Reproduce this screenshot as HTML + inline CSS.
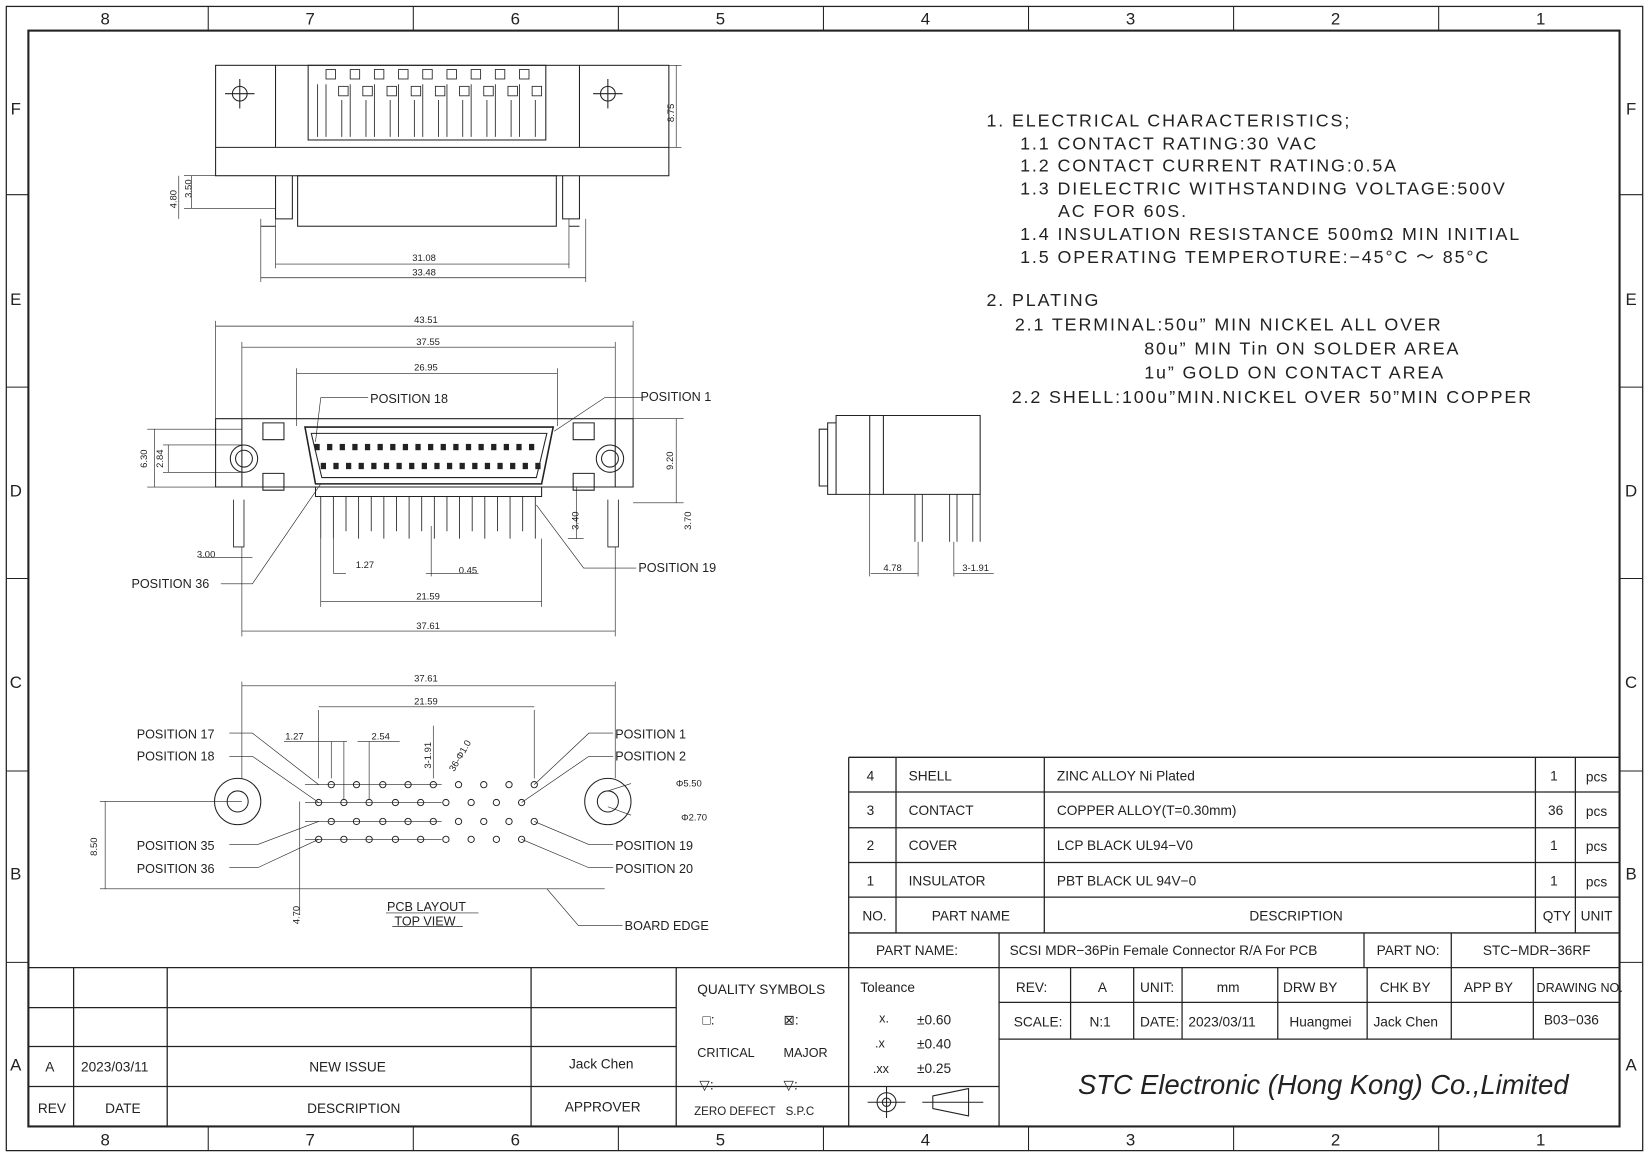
<!DOCTYPE html>
<html><head><meta charset="utf-8"><style>
html,body{margin:0;padding:0;background:#fff;}
svg{display:block;}
text{font-family:"Liberation Sans",sans-serif;fill:#222;}
.n{font-size:17px;letter-spacing:1.8px;}
.s{font-size:12px;}
.t{font-size:13px;}
.d{font-size:9px;}
</style></head><body>
<svg width="1649" height="1156" viewBox="0 0 1568 1099" xmlns="http://www.w3.org/2000/svg" fill="none" stroke="#222" stroke-width="1">
<rect x="6" y="6" width="1556" height="1088" stroke-width="1.2"/>
<rect x="27" y="29" width="1513" height="1042" stroke-width="2"/>
<g stroke-width="1">
<line x1="198" y1="6" x2="198" y2="29"/><line x1="393" y1="6" x2="393" y2="29"/><line x1="588" y1="6" x2="588" y2="29"/><line x1="783" y1="6" x2="783" y2="29"/><line x1="978" y1="6" x2="978" y2="29"/><line x1="1173" y1="6" x2="1173" y2="29"/><line x1="1368" y1="6" x2="1368" y2="29"/>
<line x1="198" y1="1071" x2="198" y2="1094"/><line x1="393" y1="1071" x2="393" y2="1094"/><line x1="588" y1="1071" x2="588" y2="1094"/><line x1="783" y1="1071" x2="783" y2="1094"/><line x1="978" y1="1071" x2="978" y2="1094"/><line x1="1173" y1="1071" x2="1173" y2="1094"/><line x1="1368" y1="1071" x2="1368" y2="1094"/>
<line x1="6" y1="185" x2="27" y2="185"/><line x1="6" y1="368" x2="27" y2="368"/><line x1="6" y1="550" x2="27" y2="550"/><line x1="6" y1="733" x2="27" y2="733"/><line x1="6" y1="915" x2="27" y2="915"/>
<line x1="1540" y1="185" x2="1562" y2="185"/><line x1="1540" y1="368" x2="1562" y2="368"/><line x1="1540" y1="550" x2="1562" y2="550"/><line x1="1540" y1="733" x2="1562" y2="733"/><line x1="1540" y1="915" x2="1562" y2="915"/>
</g>
<g stroke="none" font-size="16" text-anchor="middle">
<text x="100" y="23">8</text><text x="295" y="23">7</text><text x="490" y="23">6</text><text x="685" y="23">5</text><text x="880" y="23">4</text><text x="1075" y="23">3</text><text x="1270" y="23">2</text><text x="1465" y="23">1</text>
<text x="100" y="1089">8</text><text x="295" y="1089">7</text><text x="490" y="1089">6</text><text x="685" y="1089">5</text><text x="880" y="1089">4</text><text x="1075" y="1089">3</text><text x="1270" y="1089">2</text><text x="1465" y="1089">1</text>
<text x="15" y="109">F</text><text x="15" y="290">E</text><text x="15" y="472">D</text><text x="15" y="654">C</text><text x="15" y="836">B</text><text x="15" y="1018">A</text>
<text x="1551" y="109">F</text><text x="1551" y="290">E</text><text x="1551" y="472">D</text><text x="1551" y="654">C</text><text x="1551" y="836">B</text><text x="1551" y="1018">A</text>
</g>

<g stroke="none" class="n">
<text x="938" y="120">1.  ELECTRICAL  CHARACTERISTICS;</text>
<text x="970" y="142">1.1  CONTACT  RATING:30  VAC</text>
<text x="970" y="163">1.2  CONTACT  CURRENT  RATING:0.5A</text>
<text x="970" y="185">1.3  DIELECTRIC  WITHSTANDING  VOLTAGE:500V</text>
<text x="1006" y="206">AC  FOR  60S.</text>
<text x="970" y="228">1.4  INSULATION  RESISTANCE  500mΩ  MIN  INITIAL</text>
<text x="970" y="250">1.5  OPERATING  TEMPEROTURE:−45°C  ～  85°C</text>
<text x="938" y="291">2.  PLATING</text>
<text x="965" y="314">2.1  TERMINAL:50u”  MIN  NICKEL  ALL  OVER</text>
<text x="1088" y="337">80u”  MIN  Tin  ON  SOLDER  AREA</text>
<text x="1088" y="360">1u”  GOLD  ON  CONTACT  AREA</text>
<text x="962" y="383">2.2  SHELL:100u”MIN.NICKEL  OVER  50”MIN  COPPER</text>
</g>

<rect x="205" y="62" width="431" height="105"/>
<line x1="262" y1="62" x2="262" y2="140"/><line x1="551" y1="62" x2="551" y2="140"/>
<line x1="205" y1="140" x2="636" y2="140"/>
<rect x="293" y="62" width="226" height="71"/>
<g><circle cx="228" cy="89" r="7"/><line x1="214" y1="89" x2="242" y2="89"/><line x1="228" y1="75" x2="228" y2="103"/>
<circle cx="578" cy="89" r="7"/><line x1="564" y1="89" x2="592" y2="89"/><line x1="578" y1="75" x2="578" y2="103"/></g>
<g stroke-width="0.8">
<rect x="310" y="66" width="9" height="9"/><rect x="333" y="66" width="9" height="9"/><rect x="356" y="66" width="9" height="9"/><rect x="379" y="66" width="9" height="9"/><rect x="402" y="66" width="9" height="9"/><rect x="425" y="66" width="9" height="9"/><rect x="448" y="66" width="9" height="9"/><rect x="471" y="66" width="9" height="9"/><rect x="494" y="66" width="9" height="9"/>
<rect x="322" y="82" width="9" height="9"/><rect x="345" y="82" width="9" height="9"/><rect x="368" y="82" width="9" height="9"/><rect x="391" y="82" width="9" height="9"/><rect x="414" y="82" width="9" height="9"/><rect x="437" y="82" width="9" height="9"/><rect x="460" y="82" width="9" height="9"/><rect x="483" y="82" width="9" height="9"/><rect x="506" y="82" width="9" height="9"/>
<path d="M302 80V130M310 80V130M325 95V130M333 80V130M348 95V130M356 80V130M371 95V130M379 80V130M394 95V130M402 80V130M417 95V130M425 80V130M440 95V130M448 80V130M463 95V130M471 80V130M486 95V130M494 80V130M509 95V130"/>
</g>
<rect x="283" y="167" width="246" height="48"/>
<path d="M262 167V208H278V167M551 167V208H535V167M248 215H262M541 215H551"/>
<path d="M248 208V268M262 208V255M541 208V255M557 208V268" stroke-width="0.6"/>
<path d="M262 251H541M248 264H557" stroke-width="0.6"/>
<path d="M175 167H262M175 198H262M182 167V198M170 167V208" stroke-width="0.6"/>
<path d="M636 62H648M636 140H648M643 62V140" stroke-width="0.6"/>
<g stroke="none" class="d"><text x="392" y="248">31.08</text><text x="392" y="262">33.48</text>
<text transform="translate(182,188) rotate(-90)">3.50</text><text transform="translate(168,198) rotate(-90)">4.80</text><text transform="translate(641,116) rotate(-90)">8.75</text></g>

<path d="M205 398H602V463H205Z"/>
<path d="M230 398V463M585 398V463"/>
<path d="M250 402H270V418H250ZM250 450H270V466H250ZM545 402H565V418H545ZM545 450H565V466H545Z"/>
<circle cx="232" cy="436" r="8"/><circle cx="232" cy="436" r="13"/>
<circle cx="580" cy="436" r="8"/><circle cx="580" cy="436" r="13"/>
<path d="M290 406H526L515 460H300Z" stroke-width="1.5"/>
<path d="M296 412H520L510 454H306Z"/>
<g fill="#222" stroke="none">
<rect x="299" y="422" width="5" height="6"/><rect x="311" y="422" width="5" height="6"/><rect x="323" y="422" width="5" height="6"/><rect x="335" y="422" width="5" height="6"/><rect x="347" y="422" width="5" height="6"/><rect x="359" y="422" width="5" height="6"/><rect x="371" y="422" width="5" height="6"/><rect x="383" y="422" width="5" height="6"/><rect x="395" y="422" width="5" height="6"/><rect x="407" y="422" width="5" height="6"/><rect x="419" y="422" width="5" height="6"/><rect x="431" y="422" width="5" height="6"/><rect x="443" y="422" width="5" height="6"/><rect x="455" y="422" width="5" height="6"/><rect x="467" y="422" width="5" height="6"/><rect x="479" y="422" width="5" height="6"/><rect x="491" y="422" width="5" height="6"/><rect x="503" y="422" width="5" height="6"/>
<rect x="305" y="440" width="5" height="6"/><rect x="317" y="440" width="5" height="6"/><rect x="329" y="440" width="5" height="6"/><rect x="341" y="440" width="5" height="6"/><rect x="353" y="440" width="5" height="6"/><rect x="365" y="440" width="5" height="6"/><rect x="377" y="440" width="5" height="6"/><rect x="389" y="440" width="5" height="6"/><rect x="401" y="440" width="5" height="6"/><rect x="413" y="440" width="5" height="6"/><rect x="425" y="440" width="5" height="6"/><rect x="437" y="440" width="5" height="6"/><rect x="449" y="440" width="5" height="6"/><rect x="461" y="440" width="5" height="6"/><rect x="473" y="440" width="5" height="6"/><rect x="485" y="440" width="5" height="6"/><rect x="497" y="440" width="5" height="6"/><rect x="509" y="440" width="5" height="6"/>
</g>
<path d="M300 463H515V472H300Z"/>
<g stroke-width="0.8"><path d="M305 472V512M317 472V512M329 472V505M341 472V512M353 472V505M365 472V512M377 472V505M389 472V512M401 472V505M413 472V512M425 472V505M437 472V512M449 472V505M461 472V512M473 472V505M485 472V512M497 472V505M509 472V512"/>
<path d="M222 475V520H232V475M578 475V520H588V475"/></g>
<g stroke-width="0.6">
<path d="M205 398V305M602 398V305M205 310H602M230 330H585M230 398V325M585 398V325M282 355H530M282 405V350M530 405V350"/>
<path d="M140 408H230M140 463H230M147 408V463M155 423H232M155 449H232M160 423V449"/>
<path d="M602 398H650M602 478H650M643 398V478M540 512H555M548 463V512"/>
<path d="M230 520V605M585 520V605M230 600H585M305 512V577M515 512V577M305 572H515M317 512V545M329 545H317M410 500V548M405 545H455"/>
<path d="M190 530H240M350 378H305L300 420M610 378H575L527 410M210 555H240L305 460M605 540H555L510 480"/>
</g>
<g stroke="none" class="d" text-anchor="middle">
<text x="405" y="307">43.51</text><text x="407" y="328">37.55</text><text x="405" y="352">26.95</text>
<text x="347" y="540">1.27</text><text x="445" y="545">0.45</text><text x="407" y="570">21.59</text><text x="407" y="598">37.61</text><text x="196" y="530">3.00</text>
<text transform="translate(140,436) rotate(-90)">6.30</text><text transform="translate(155,436) rotate(-90)">2.84</text><text transform="translate(640,438) rotate(-90)">9.20</text><text transform="translate(550,495) rotate(-90)">3.40</text><text transform="translate(657,495) rotate(-90)">3.70</text>
</g>
<g stroke="none" class="s">
<text x="352" y="383">POSITION  18</text><text x="609" y="381">POSITION  1</text><text x="125" y="559">POSITION  36</text><text x="607" y="544">POSITION  19</text>
</g>

<path d="M795 395H932V470H795ZM787 402H795V470H787ZM779 408H787V462H779Z"/>
<path d="M827 395V470M840 395V470"/>
<path d="M870 470V515M877 470V515M903 470V515M910 470V515M925 470V515M932 470V515" stroke-width="0.8"/>
<path d="M827 470V548M873 515V548M907 515V548M828 545H873M907 545H945" stroke-width="0.6"/>
<g stroke="none" class="d"><text x="840" y="543">4.78</text><text x="915" y="543">3-1.91</text></g>

<circle cx="226" cy="762" r="22"/><circle cx="226" cy="762" r="10"/>
<circle cx="578" cy="762" r="22"/><circle cx="578" cy="762" r="10"/>
<g stroke-width="0.9">
<circle cx="315" cy="746" r="3"/><circle cx="339" cy="746" r="3"/><circle cx="364" cy="746" r="3"/><circle cx="388" cy="746" r="3"/><circle cx="412" cy="746" r="3"/><circle cx="436" cy="746" r="3"/><circle cx="460" cy="746" r="3"/><circle cx="484" cy="746" r="3"/><circle cx="508" cy="746" r="3"/>
<circle cx="303" cy="763" r="3"/><circle cx="327" cy="763" r="3"/><circle cx="351" cy="763" r="3"/><circle cx="376" cy="763" r="3"/><circle cx="400" cy="763" r="3"/><circle cx="424" cy="763" r="3"/><circle cx="448" cy="763" r="3"/><circle cx="472" cy="763" r="3"/><circle cx="496" cy="763" r="3"/>
<circle cx="315" cy="781" r="3"/><circle cx="339" cy="781" r="3"/><circle cx="364" cy="781" r="3"/><circle cx="388" cy="781" r="3"/><circle cx="412" cy="781" r="3"/><circle cx="436" cy="781" r="3"/><circle cx="460" cy="781" r="3"/><circle cx="484" cy="781" r="3"/><circle cx="508" cy="781" r="3"/>
<circle cx="303" cy="798" r="3"/><circle cx="327" cy="798" r="3"/><circle cx="351" cy="798" r="3"/><circle cx="376" cy="798" r="3"/><circle cx="400" cy="798" r="3"/><circle cx="424" cy="798" r="3"/><circle cx="448" cy="798" r="3"/><circle cx="472" cy="798" r="3"/><circle cx="496" cy="798" r="3"/>
</g>
<g stroke-width="0.6">
<path d="M230 648V740M585 648V740M230 652H585M303 675V740M508 675V740M303 672H508M270 705H330M315 705V740M327 705V760M340 705H380M351 705V760M412 690V740"/>
<path d="M200 762H230M290 746H420M290 763H420M290 781H420M290 798H420M95 762H230M95 845H575M100 762V845M285 762V870"/>
<path d="M218 697H240L303 746M218 719H240L303 763M218 803H245L303 781M218 825H245L303 798M583 697H560L508 746M583 719H560L496 763M583 803H560L508 781M583 825H560L496 798M592 880H550L520 845M600 745L578 752M600 775L578 767"/>
<path d="M367 868H455M373 881H440"/>
</g>
<g stroke="none" class="d" text-anchor="middle">
<text x="405" y="648">37.61</text><text x="405" y="670">21.59</text><text x="280" y="703">1.27</text><text x="362" y="703">2.54</text>
<text transform="translate(410,718) rotate(-90)">3-1.91</text><text transform="translate(440,720) rotate(-60)">36-Φ1.0</text>
<text x="655" y="748">Φ5.50</text><text x="660" y="780">Φ2.70</text>
<text transform="translate(92,805) rotate(-90)">8.50</text><text transform="translate(285,870) rotate(-90)">4.70</text>
</g>
<g stroke="none" class="s">
<text x="130" y="702">POSITION  17</text><text x="130" y="723">POSITION  18</text><text x="130" y="808">POSITION  35</text><text x="130" y="830">POSITION  36</text>
<text x="585" y="702">POSITION  1</text><text x="585" y="723">POSITION  2</text><text x="585" y="808">POSITION  19</text><text x="585" y="830">POSITION  20</text>
<text x="594" y="884">BOARD  EDGE</text><text x="368" y="866">PCB  LAYOUT</text><text x="375" y="880">TOP  VIEW</text>
</g>

<g stroke-width="1.2">
<path d="M807 720H1540M807 753H1540M807 787H1540M807 820H1540M807 853H1540M807 887H1540M807 920H1540"/>
<path d="M807 720V1071M852 720V887M993 720V887M1460 720V887M1498 720V887M950 887V1071M1297 887V920M1380 887V920"/>
</g>
<g stroke="none" class="t">
<text x="824" y="742">4</text><text x="864" y="742">SHELL</text><text x="1005" y="742">ZINC  ALLOY  Ni  Plated</text><text x="1474" y="742">1</text><text x="1508" y="743">pcs</text>
<text x="824" y="775">3</text><text x="864" y="775">CONTACT</text><text x="1005" y="775">COPPER  ALLOY(T=0.30mm)</text><text x="1472" y="775">36</text><text x="1508" y="776">pcs</text>
<text x="824" y="808">2</text><text x="864" y="808">COVER</text><text x="1005" y="808">LCP  BLACK  UL94−V0</text><text x="1474" y="808">1</text><text x="1508" y="809">pcs</text>
<text x="824" y="842">1</text><text x="864" y="842">INSULATOR</text><text x="1005" y="842">PBT  BLACK  UL  94V−0</text><text x="1474" y="842">1</text><text x="1508" y="843">pcs</text>
<text x="820" y="875">NO.</text><text x="886" y="875">PART  NAME</text><text x="1188" y="875">DESCRIPTION</text><text x="1467" y="875">QTY</text><text x="1503" y="875">UNIT</text>
<text x="833" y="908">PART     NAME:</text><text x="960" y="908">SCSI  MDR−36Pin  Female  Connector  R/A  For  PCB</text><text x="1309" y="908">PART  NO:</text><text x="1410" y="908">STC−MDR−36RF</text>
</g>
<g stroke-width="1.2">
<path d="M950 953H1540M950 988H1540M1018 920V988M1078 920V988M1124 920V988M1215 920V988M1300 920V988M1380 920V988M1458 920V988"/>
<path d="M27 920H807M27 958H643M27 995H643M27 1033H807M70 920V1071M159 920V1071M505 920V1071M643 920V1071M807 1033H950"/>
</g>
<g stroke="none" class="t">
<text x="818" y="943">Toleance</text>
<text x="836" y="972" class="s">x.</text><text x="872" y="974">±0.60</text>
<text x="832" y="996" class="s">.x</text><text x="872" y="997">±0.40</text>
<text x="830" y="1020" class="s">.xx</text><text x="872" y="1020">±0.25</text>
<text x="966" y="943">REV:</text><text x="1044" y="943">A</text><text x="1084" y="943">UNIT:</text><text x="1157" y="943">mm</text><text x="1220" y="943">DRW  BY</text><text x="1312" y="943">CHK  BY</text><text x="1392" y="943">APP  BY</text><text x="1461" y="943" font-size="12">DRAWING  NO.</text>
<text x="964" y="976">SCALE:</text><text x="1036" y="976">N:1</text><text x="1084" y="976">DATE:</text><text x="1130" y="976">2023/03/11</text><text x="1226" y="976">Huangmei</text><text x="1306" y="976">Jack  Chen</text><text x="1468" y="974">B03−036</text>
<text x="663" y="945">QUALITY  SYMBOLS</text><text x="668" y="974">□:</text><text x="745" y="974">⊠:</text>
<text x="663" y="1005" class="s">CRITICAL</text><text x="745" y="1005" class="s">MAJOR</text>
<text x="665" y="1036">▽:</text><text x="745" y="1036">▽:</text>
<text x="660" y="1060" font-size="11">ZERO  DEFECT</text><text x="747" y="1060" font-size="11">S.P.C</text>
<text x="43" y="1019">A</text><text x="77" y="1019">2023/03/11</text><text x="294" y="1019">NEW  ISSUE</text><text x="541" y="1016">Jack  Chen</text>
<text x="36" y="1058">REV</text><text x="100" y="1058">DATE</text><text x="292" y="1058">DESCRIPTION</text><text x="537" y="1057">APPROVER</text>
</g>
<circle cx="843" cy="1048" r="9"/><circle cx="843" cy="1048" r="4"/><path d="M825 1048H861M843 1033V1063"/>
<path d="M877 1048H935M887 1042L921 1035V1061L887 1054Z"/>
<text x="1025" y="1040" stroke="none" font-size="26" font-style="italic">STC Electronic (Hong Kong) Co.,Limited</text>
</svg>
</body></html>
